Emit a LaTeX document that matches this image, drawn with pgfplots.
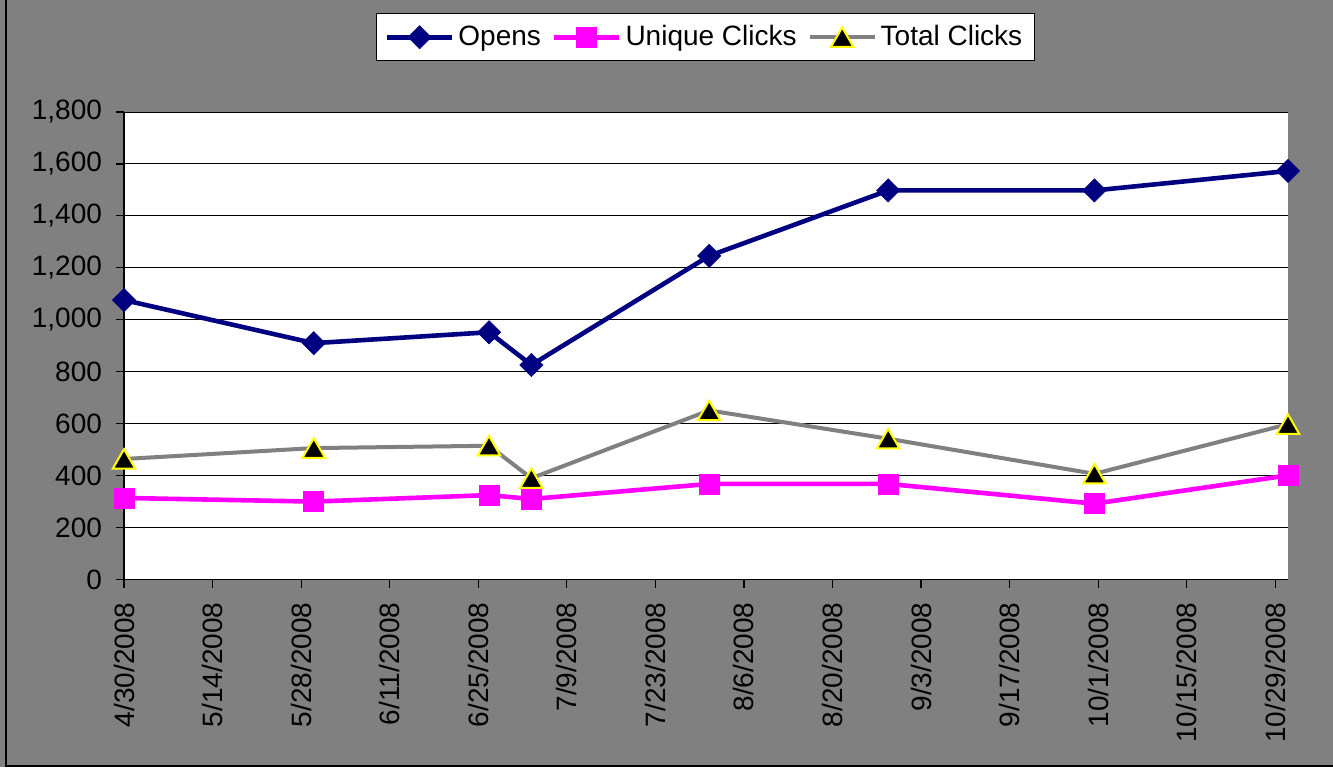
\documentclass[border=0pt]{standalone}
\usepackage{pgfplots}
\pgfplotsset{compat=1.18}
\usepackage{fontspec}
\setmainfont{Liberation Sans}
\definecolor{bggray}{HTML}{808080}
\definecolor{navyc}{HTML}{000080}
\definecolor{magc}{HTML}{FF00FF}
\definecolor{grayline}{HTML}{808080}
\definecolor{yel}{HTML}{FFFF00}
\begin{document}
\begin{tikzpicture}
\useasboundingbox (0,0) rectangle (666.5pt,383.5pt);
\fill[bggray] (0,0) rectangle (666.5pt,383.5pt);
\draw[black,line width=1pt] (3pt,383.5pt) -- (3pt,0.5pt) -- (666.5pt,0.5pt);
\begin{axis}[
  at={(62pt,93.75pt)}, anchor=south west,
  scale only axis, width=582pt, height=233.75pt,
  xmin=0, xmax=184, ymin=0, ymax=1800,
  ytick={0,200,...,1800},
  xtick={0,14,...,182},
  xticklabels={4/30/2008,5/14/2008,5/28/2008,6/11/2008,6/25/2008,7/9/2008,7/23/2008,8/6/2008,8/20/2008,9/3/2008,9/17/2008,10/1/2008,10/15/2008,10/29/2008},
  axis background/.style={fill=white},
  axis x line*=bottom, axis y line*=left,
  axis line style={-, black, line width=0.6pt},
  ymajorgrids, grid style={black, line width=0.5pt},
  tick align=outside, major tick length=4pt,
  tick style={black, line width=0.6pt},
  /pgf/number format/assume math mode=true,
  /pgf/number format/1000 sep={,},
  scaled y ticks=false,
  ticklabel style={font=\fontsize{14}{16}\selectfont},
  xticklabel style={rotate=90, anchor=east},
  xticklabel shift=4pt, yticklabel shift=3.5pt,
  clip=false,
  legend columns=-1,
  legend style={at={(0.4996,1.2118)}, anchor=north, draw=black, fill=white,
    font=\fontsize{14}{16}\selectfont, line width=0.6pt,
    /tikz/every even column/.append style={column sep=3.5pt},
    inner xsep=4pt, inner ysep=4pt},
  legend image code/.code={\draw[mark repeat=2,mark phase=2,#1] plot coordinates {(0pt,0pt)(16.25pt,0pt)(32.5pt,0pt)};},
]
\addplot[color=navyc, line width=2.3pt, mark=square*, mark size=4.1pt, mark options={rotate=45, fill=navyc, draw=navyc, line width=0.3pt}]
coordinates {(0,1076)(30,910)(57.7,952)(64.4,826)(92.5,1246)(120.8,1498)(153.4,1498)(184,1573)};
\addlegendentry{Opens}
\addplot[color=magc, line width=2.3pt, mark=square*, mark size=5pt, mark options={fill=magc, draw=magc, line width=0.3pt}]
coordinates {(0,314)(30,300)(57.7,325)(64.4,310)(92.5,368)(120.8,368)(153.4,292)(184,401)};
\addlegendentry{Unique Clicks}
\addplot[color=grayline, line width=2pt, mark=triangle*, mark size=6.5pt, mark options={fill=black, draw=yel, line width=1pt, yshift=-1.6pt}]
coordinates {(0,464)(30,506)(57.7,515)(64.4,390)(92.5,651)(120.8,542)(153.4,407)(184,598)};
\addlegendentry{Total Clicks}
\end{axis}
\end{tikzpicture}
\end{document}
